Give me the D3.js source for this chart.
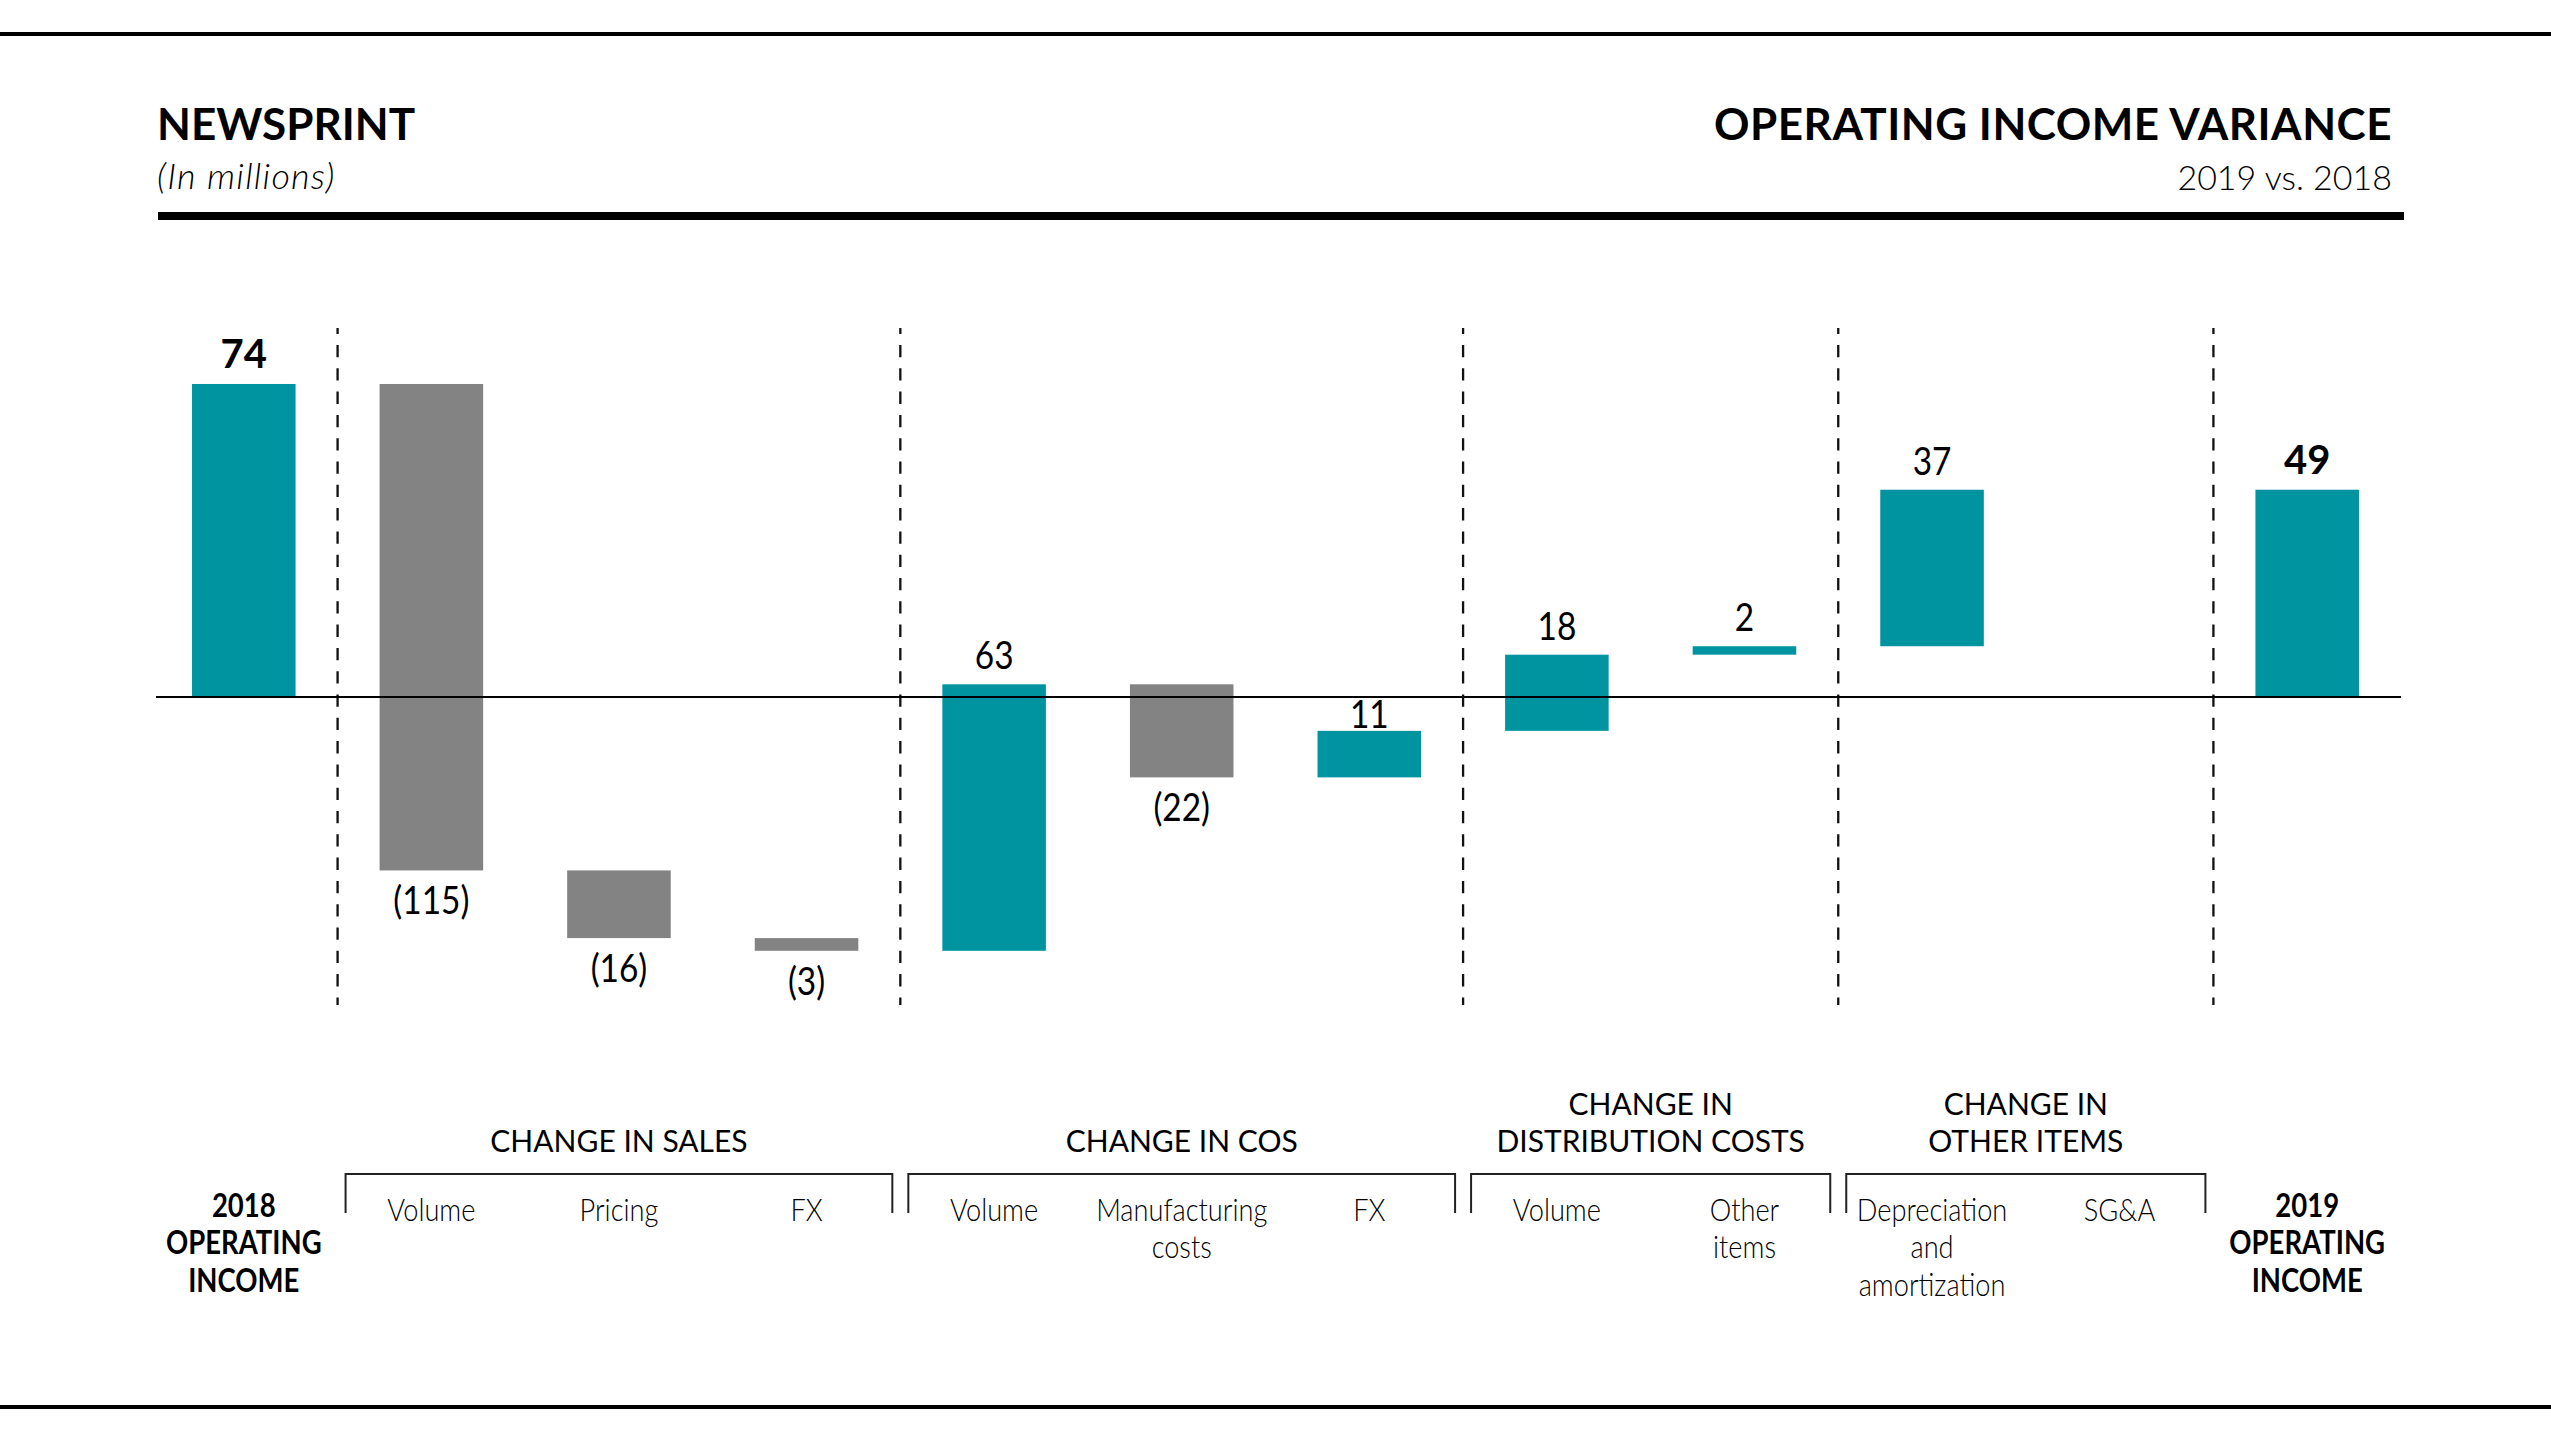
<!DOCTYPE html>
<html>
<head>
<meta charset="utf-8">
<script src="https://cdn.jsdelivr.net/npm/d3@7"></script>
<style>
  html, body { margin: 0; padding: 0; background: #ffffff; }
  svg { display: block; }
</style>
</head>
<body>
<svg id="chart" width="2551" height="1434"></svg>
<script>
// ---------------- DATA ----------------
const categoryIds = ["start", "salesVolume", "salesPricing", "salesFX", "cosVolume", "cosManufacturing", "cosFX", "distVolume", "distOther", "otherDA", "otherSGA", "end"];
const categoryLabels = [
  ["2018", "OPERATING", "INCOME"],
  ["Volume"],
  ["Pricing"],
  ["FX"],
  ["Volume"],
  ["Manufacturing", "costs"],
  ["FX"],
  ["Volume"],
  ["Other", "items"],
  ["Depreciation", "and", "amortization"],
  ["SG&A"],
  ["2019", "OPERATING", "INCOME"]
];
const values = [74, -115, -16, -3, 63, -22, 11, 18, 2, 37, 0, 49];
const barKinds = ["total", "delta", "delta", "delta", "delta", "delta", "delta", "delta", "delta", "delta", "delta", "total"];
const groupNames = [
  ["CHANGE IN SALES"],
  ["CHANGE IN COS"],
  ["CHANGE IN", "DISTRIBUTION COSTS"],
  ["CHANGE IN", "OTHER ITEMS"]
];
const groupFirst = [1, 4, 7, 9];
const groupLast = [3, 6, 8, 10];
const titleLeft = "NEWSPRINT";
const subtitleLeft = "(In millions)";
const titleRight = "OPERATING INCOME VARIANCE";
const subtitleRight = "2019 vs. 2018";

// ---------------- STYLE ----------------
const W = 2551, H = 1434;
const TEAL = "#0094a1";
const GRAY = "#838383";
const FONT = "Lato, 'Open Sans', sans-serif";

const svg = d3.select("#chart");

// ---------------- HEADER ----------------
svg.append("rect").attr("x", 0).attr("y", 32).attr("width", W).attr("height", 4).attr("fill", "#000");
svg.append("rect").attr("x", 0).attr("y", 1405).attr("width", W).attr("height", 4).attr("fill", "#000");
svg.append("rect").attr("x", 158).attr("y", 212).attr("width", 2404 - 158).attr("height", 8).attr("fill", "#000");

svg.append("text").attr("x", 157).attr("y", 140)
  .attr("font-family", FONT).attr("font-weight", 700).attr("font-size", 44)
  .attr("fill", "#000").text(titleLeft);
svg.append("text").attr("x", 157).attr("y", 189)
  .attr("font-family", FONT).attr("font-weight", 300).attr("font-style", "italic").attr("font-size", 36)
  .attr("letter-spacing", 1.2)
  .attr("fill", "#000").text(subtitleLeft);
svg.append("text").attr("x", 2392).attr("y", 140).attr("text-anchor", "end")
  .attr("font-family", FONT).attr("font-weight", 700).attr("font-size", 44)
  .attr("letter-spacing", 0.5)
  .attr("fill", "#000").text(titleRight);
svg.append("text").attr("x", 2392).attr("y", 190).attr("text-anchor", "end")
  .attr("font-family", FONT).attr("font-weight", 300).attr("font-size", 34)
  .attr("fill", "#000").text(subtitleRight);

// ---------------- SCALES ----------------
const x = d3.scaleBand().domain(categoryIds).range([150, 2401])
  .paddingInner(0.448).paddingOuter(0.224);
const zeroY = 697, pxPerUnit = 4.23;
const y = d3.scaleLinear().domain([-80, 90])
  .range([zeroY + 80 * pxPerUnit, zeroY - 90 * pxPerUnit]);

// waterfall computation
let cum = 0;
const bars = categoryIds.map((id, i) => {
  const v = values[i];
  let start, end;
  if (barKinds[i] === "total") { start = 0; end = v; cum = v; }
  else { start = cum; end = cum + v; cum = end; }
  return { id, i, v, start, end, kind: barKinds[i] };
});

const step = x.step(), bw = x.bandwidth();
const boundary = i => x(categoryIds[i]) + bw + (step - bw) / 2; // between i and i+1

// ---------------- DASHED SEPARATORS ----------------
const sepIdx = [0].concat(groupLast);
svg.append("g").selectAll("line").data(sepIdx).join("line")
  .attr("x1", d => boundary(d)).attr("x2", d => boundary(d))
  .attr("y1", 328).attr("y2", 1005)
  .attr("stroke", "#111").attr("stroke-width", 2.3)
  .attr("stroke-dasharray", "12.3 11").attr("stroke-dashoffset", 6.3);

// ---------------- BARS ----------------
const barData = bars.filter(d => d.v !== 0);
svg.append("g").selectAll("rect").data(barData).join("rect")
  .attr("x", d => x(d.id))
  .attr("width", bw)
  .attr("y", d => y(Math.max(d.start, d.end)))
  .attr("height", d => Math.abs(y(d.start) - y(d.end)))
  .attr("fill", d => (d.kind === "total" || d.v > 0) ? TEAL : GRAY);

// zero line
svg.append("line").attr("x1", 156).attr("x2", 2401).attr("y1", y(0)).attr("y2", y(0))
  .attr("stroke", "#000").attr("stroke-width", 2.2);

// ---------------- VALUE LABELS ----------------
const fmt = v => v < 0 ? "(" + Math.abs(v) + ")" : String(v);
svg.append("g").selectAll("text").data(barData).join("text")
  .attr("transform", d => {
    const cx = x(d.id) + bw / 2;
    const top = y(Math.max(d.start, d.end));
    const bottom = y(Math.min(d.start, d.end));
    let by;
    if (d.kind === "total") by = top - 16;
    else if (d.v < 0) by = bottom + 44;
    else by = (top > y(0)) ? top - 3 : top - 15;
    return `translate(${cx},${by}) scale(${d.kind === "total" ? 1 : 0.88},1)`;
  })
  .attr("text-anchor", "middle")
  .attr("font-family", FONT)
  .attr("font-weight", d => d.kind === "total" ? 700 : 400)
  .attr("font-size", d => d.kind === "total" ? 40 : 38)
  .attr("fill", "#000")
  .text(d => fmt(d.v));

// ---------------- CATEGORY LABELS ----------------
const catG = svg.append("g");
categoryIds.forEach((id, i) => {
  const cx = x(id) + bw / 2;
  const isTotal = barKinds[i] === "total";
  const by = isTotal ? 1217 : 1221;
  const t = catG.append("text")
    .attr("transform", `translate(${cx},${by}) scale(${isTotal ? 0.86 : 0.85},1)`)
    .attr("text-anchor", "middle")
    .attr("font-family", FONT)
    .attr("font-weight", isTotal ? 700 : 300)
    .attr("font-size", 32)
    .attr("fill", "#000");
  categoryLabels[i].forEach((line, j) => {
    t.append("tspan").attr("x", 0).attr("dy", j === 0 ? 0 : 37.5).text(line);
  });
});

// ---------------- GROUP BRACKETS & LABELS ----------------
const grpG = svg.append("g");
groupNames.forEach((names, g) => {
  const x1 = boundary(groupFirst[g] - 1) + 8;
  const x2 = boundary(groupLast[g]) - 8;
  grpG.append("path")
    .attr("d", `M${x1},1213 V1174 H${x2} V1213`)
    .attr("fill", "none").attr("stroke", "#222").attr("stroke-width", 2);
  const cx = (x1 + x2) / 2;
  const t = grpG.append("text")
    .attr("x", cx).attr("y", 1152 - (names.length - 1) * 37)
    .attr("text-anchor", "middle")
    .attr("font-family", FONT)
    .attr("font-weight", 400)
    .attr("font-size", 30)
    .attr("fill", "#000");
  names.forEach((line, j) => {
    t.append("tspan").attr("x", cx).attr("dy", j === 0 ? 0 : 37).text(line);
  });
});
</script>
</body>
</html>
